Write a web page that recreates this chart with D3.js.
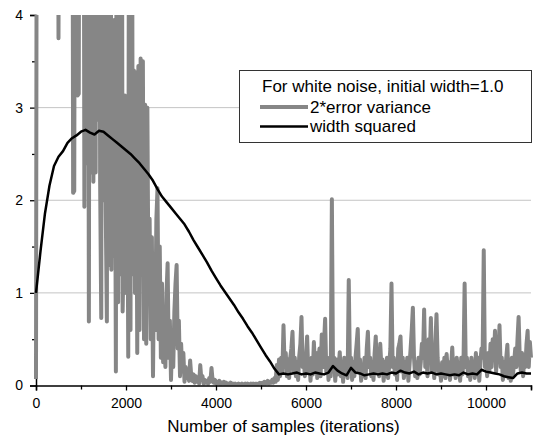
<!DOCTYPE html>
<html>
<head>
<meta charset="utf-8">
<script src="https://cdn.jsdelivr.net/npm/d3@7"></script>
<style>
  body { margin: 0; background: #fff; }
  svg { display: block; font-family: "Liberation Sans", Arial, sans-serif; }
</style>
</head>
<body>
<script>
// ---- data ----
var xTicks = [0, 2000, 4000, 6000, 8000, 10000];
var xMinorTicks = [1000, 3000, 5000, 7000, 9000, 11000];
var yTicks = [0, 1, 2, 3, 4];
var yMinorTicks = [0.5, 1.5, 2.5, 3.5];
var gridValues = [1, 2, 3];

// 2*error variance, one point every 25 samples (9 = off the top of the chart)
var errStep = 25;
var errVar = [
  0.07, 9, 9, 9, 9, 9, 9, 9, 9, 9,
  9, 9, 9, 9, 9, 9, 9, 9, 9, 9,
  3.75, 9, 9, 9, 9, 9, 9, 9, 9, 9,
  9, 9, 9, 2.08, 2.1, 9, 9, 3.13, 3.15, 9,
  9, 9, 9, 1.93, 9, 2.4, 9, 0.69, 9, 2.3,
  9, 2.2, 9, 2.3, 9, 2.87, 9, 2.2, 0.73, 9,
  2.0, 9, 1.9, 0.69, 9, 1.3, 9, 1.25, 3.92, 1.4,
  3.95, 0.15, 9, 0.9, 9, 1.2, 9, 0.8, 1.5, 3.13,
  1.0, 3.1, 0.31, 9, 0.6, 9, 1.2, 3.40, 1.0, 3.38,
  0.35, 3.45, 0.6, 3.53, 1.2, 3.5, 0.5, 3.03, 0.45, 3.0,
  1.0, 1.8, 0.5, 1.6, 0.1, 1.4, 0.6, 1.8, 2.13, 0.5,
  1.5, 0.3, 1.1, 0.25, 0.8, 0.2, 1.0, 1.32, 0.3, 0.7,
  0.06, 0.5, 0.2, 0.8, 1.1, 1.30, 0.4, 0.7, 0.1, 0.45,
  0.15, 0.35, 0.04, 0.2, 0.08, 0.15, 0.05, 0.27, 0.1, 0.05,
  0.12, 0.03, 0.1, 0.04, 0.08, 0.02, 0.22, 0.06, 0.1, 0.02,
  0.06, 0.03, 0.05, 0.02, 0.08, 0.04, 0.19, 0.05, 0.03, 0.06,
  0.02, 0.04, 0.02, 0.05, 0.01, 0.03, 0.02, 0.04, 0.01, 0.03,
  0.01, 0.02, 0.01, 0.03, 0.01, 0.02, 0.01, 0.02, 0.01, 0.01,
  0.02, 0.01, 0.01, 0.02, 0.01, 0.01, 0.02, 0.01, 0.02, 0.01,
  0.01, 0.02, 0.01, 0.02, 0.01, 0.02, 0.02, 0.01, 0.02, 0.03,
  0.02, 0.03, 0.02, 0.04, 0.02, 0.03, 0.05, 0.02, 0.04, 0.03,
  0.06, 0.03, 0.08, 0.04, 0.22, 0.06, 0.28, 0.1, 0.3, 0.15,
  0.65, 0.2, 0.35, 0.1, 0.28, 0.08, 0.3, 0.4, 0.58, 0.15,
  0.3, 0.1, 0.25, 0.06, 0.32, 0.45, 0.74, 0.2, 0.28, 0.1,
  0.3, 0.53, 0.15, 0.25, 0.05, 0.3, 0.12, 0.47, 0.2, 0.35,
  0.08, 0.28, 0.4, 0.1, 0.55, 0.2, 0.45, 0.72, 0.15, 0.3,
  0.06, 0.25, 0.1, 2.01, 0.15, 0.3, 0.05, 0.28, 0.12, 0.2,
  0.36, 0.1, 0.25, 0.04, 0.3, 0.12, 0.22, 0.08, 1.14, 0.2,
  0.3, 0.06, 0.25, 0.1, 0.3, 0.45, 0.61, 0.15, 0.28, 0.05,
  0.22, 0.1, 0.3, 0.08, 0.4, 0.58, 0.2, 0.3, 0.1, 0.25,
  0.06, 0.35, 0.53, 0.15, 0.3, 0.1, 0.45, 0.2, 0.28, 0.05,
  0.25, 0.1, 0.3, 0.08, 0.22, 0.4, 1.10, 0.2, 0.3, 0.12,
  0.25, 0.06, 0.4, 0.45, 0.53, 0.15, 0.3, 0.08, 0.25, 0.12,
  0.3, 0.05, 0.22, 0.4, 0.6, 0.84, 0.3, 0.1, 0.25, 0.08,
  0.3, 0.12, 0.25, 0.45, 0.3, 0.82, 0.2, 0.35, 0.1, 0.5,
  0.3, 0.73, 0.15, 0.25, 0.08, 0.45, 0.77, 0.3, 0.12, 0.2,
  0.05, 0.25, 0.1, 0.3, 0.08, 0.34, 0.15, 0.25, 0.06, 0.2,
  0.41, 0.12, 0.28, 0.08, 0.3, 0.15, 0.22, 0.05, 0.3, 0.12,
  0.25, 1.10, 0.2, 0.3, 0.1, 0.25, 0.06, 0.3, 0.15, 0.22,
  0.08, 0.35, 0.12, 0.3, 0.05, 0.25, 0.4, 0.3, 1.46, 0.2,
  0.3, 0.1, 0.35, 0.15, 0.45, 0.2, 0.5, 0.3, 0.59, 0.15,
  0.4, 0.3, 0.65, 0.2, 0.3, 0.06, 0.25, 0.1, 0.3, 0.44,
  0.08, 0.25, 0.05, 0.3, 0.12, 0.25, 0.4, 0.2, 0.5, 0.74,
  0.3, 0.15, 0.35, 0.1, 0.3, 0.2, 0.45, 0.59, 0.2, 0.47,
  0.3
];

// width squared, one point every 100 samples
var widthStep = 100;
var widthSq = [
  1.0, 1.45, 1.86, 2.16, 2.37, 2.47, 2.53, 2.62, 2.67, 2.70,
  2.74, 2.76, 2.73, 2.71, 2.75, 2.74, 2.70, 2.66, 2.62, 2.58,
  2.54, 2.50, 2.45, 2.40, 2.34, 2.28, 2.21, 2.12, 2.04, 1.98,
  1.92, 1.86, 1.80, 1.74, 1.66, 1.57, 1.49, 1.41, 1.33, 1.24,
  1.16, 1.08, 1.01, 0.94, 0.87, 0.79, 0.72, 0.64, 0.57, 0.49,
  0.41, 0.33, 0.26, 0.18, 0.12, 0.13, 0.12, 0.13, 0.14, 0.12,
  0.13, 0.12, 0.14, 0.13, 0.12, 0.14, 0.21, 0.16, 0.13, 0.11,
  0.19, 0.14, 0.13, 0.11, 0.12, 0.13, 0.12, 0.13, 0.12, 0.14,
  0.13, 0.16, 0.14, 0.13, 0.15, 0.12, 0.14, 0.13, 0.14, 0.12,
  0.13, 0.12, 0.11, 0.12, 0.11, 0.14, 0.12, 0.13, 0.12, 0.17,
  0.15, 0.14, 0.13, 0.12, 0.10, 0.09, 0.08, 0.13, 0.14, 0.13, 0.13
];

var legendTitle = "For white noise, initial width=1.0";
var seriesNames = ["2*error variance", "width squared"];
var xTitle = "Number of samples (iterations)";

// ---- layout ----
const WIDTH = 534;
const HEIGHT = 441;
const LEFT = 36, RIGHT = 531, TOP = 15, BOTTOM = 385.5;
const GRAY = "#868686";

var xScale = d3.scaleLinear().domain([0, 11000]).range([LEFT, RIGHT]);
var yScale = d3.scaleLinear().domain([0, 4]).range([BOTTOM, TOP]);

var svg = d3.select("body").append("svg")
    .attr("width", WIDTH)
    .attr("height", HEIGHT);

svg.append("clipPath").attr("id", "plot")
  .append("rect")
    .attr("x", LEFT - 2).attr("y", TOP)
    .attr("width", RIGHT - LEFT + 4).attr("height", BOTTOM - TOP);

// horizontal grid lines
svg.append("g").selectAll("line")
  .data(gridValues)
  .enter().append("line")
    .attr("x1", LEFT).attr("x2", RIGHT)
    .attr("y1", d => yScale(d)).attr("y2", d => yScale(d))
    .attr("stroke", "#c4c4c4")
    .attr("stroke-width", 1);

// left axis
svg.append("g")
    .attr("transform", `translate(${LEFT},0)`)
    .call(d3.axisLeft(yScale).tickValues(yTicks).tickSize(6).tickPadding(7).tickFormat(d3.format("d")));
svg.append("g")
    .attr("transform", `translate(${LEFT},0)`)
    .call(d3.axisLeft(yScale).tickValues(yMinorTicks).tickSize(4).tickFormat(""))
    .select(".domain").remove();

// data lines
var errLine = d3.line()
    .x((d, i) => xScale(i * errStep))
    .y(d => yScale(d));
var widthLine = d3.line()
    .x((d, i) => xScale(i * widthStep))
    .y(d => yScale(d));

var plot = svg.append("g").attr("clip-path", "url(#plot)");
plot.append("path")
    .datum(errVar)
    .attr("d", errLine)
    .attr("fill", "none")
    .attr("stroke", GRAY)
    .attr("stroke-width", 4)
    .attr("stroke-linejoin", "round");
plot.append("path")
    .datum(widthSq)
    .attr("d", widthLine)
    .attr("fill", "none")
    .attr("stroke", "#000")
    .attr("stroke-width", 2.5)
    .attr("stroke-linejoin", "round");

// bottom axis
svg.append("g")
    .attr("transform", `translate(0,${BOTTOM})`)
    .call(d3.axisBottom(xScale).tickValues(xTicks).tickSize(5).tickPadding(8).tickFormat(d3.format("d")));
svg.append("g")
    .attr("transform", `translate(0,${BOTTOM})`)
    .call(d3.axisBottom(xScale).tickValues(xMinorTicks).tickSize(4).tickFormat(""))
    .select(".domain").remove();

svg.selectAll(".domain").attr("stroke", "#000").attr("stroke-width", 1.5);
svg.selectAll(".tick line").attr("stroke", "#000").attr("stroke-width", 1.3);
svg.selectAll(".tick text")
    .attr("font-family", "Liberation Sans, Arial, sans-serif")
    .attr("font-size", "14px")
    .attr("fill", "#000");

// x axis title
svg.append("text")
    .attr("x", (LEFT + RIGHT) / 2)
    .attr("y", 432)
    .attr("text-anchor", "middle")
    .attr("font-size", "17px")
    .text(xTitle);

// legend
var legend = svg.append("g");
legend.append("rect")
    .attr("x", 239.5).attr("y", 70.5)
    .attr("width", 292).attr("height", 72)
    .attr("fill", "#fff")
    .attr("stroke", "#333")
    .attr("stroke-width", 1);
legend.append("text")
    .attr("x", 262).attr("y", 92)
    .attr("font-size", "17px")
    .text(legendTitle);

var legendColors = [GRAY, "#000"];
var legendWidths = [4, 2.5];
seriesNames.forEach((name, i) => {
  var y = 107 + i * 19.5;
  legend.append("line")
      .attr("x1", 260).attr("x2", 308)
      .attr("y1", y).attr("y2", y)
      .attr("stroke", legendColors[i])
      .attr("stroke-width", legendWidths[i]);
  legend.append("text")
      .attr("x", 310).attr("y", y + 5.5)
      .attr("font-size", "17px")
      .text(name);
});
</script>
</body>
</html>
